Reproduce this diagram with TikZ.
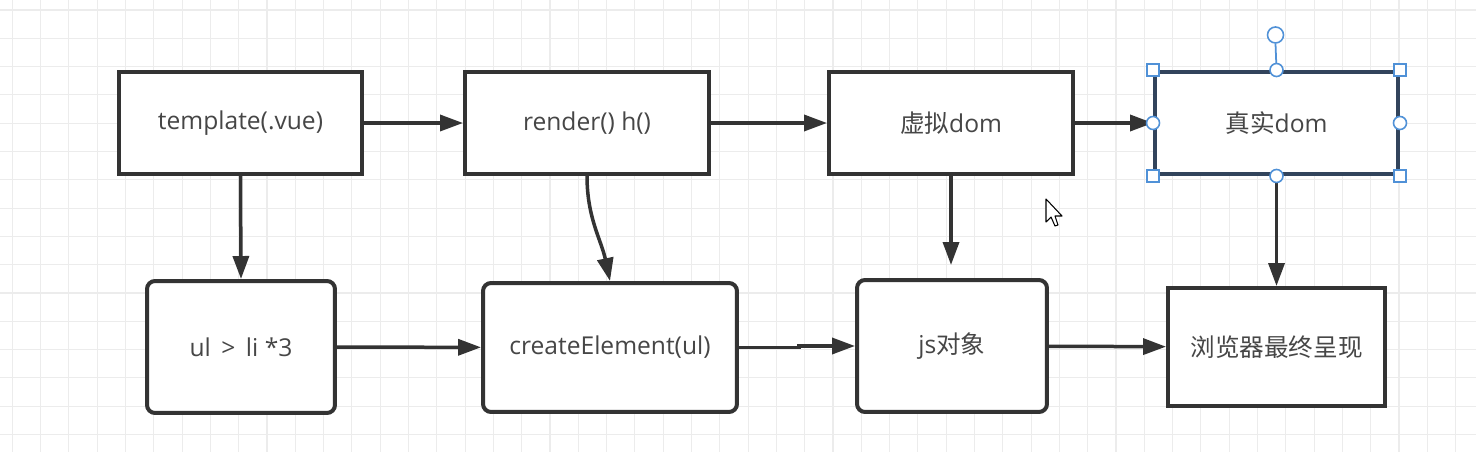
\documentclass[tikz,border=0pt]{standalone}
\usepackage{fontspec}
\setmainfont{Open Sans}
\newfontfamily\cjk{Noto Sans CJK SC}
\usetikzlibrary{arrows.meta}
\definecolor{LineClr}{RGB}{51,51,51}
\definecolor{TextClr}{RGB}{70,70,70}
\definecolor{GridClr}{RGB}{236,236,236}
\definecolor{SelClr}{RGB}{80,145,215}
\definecolor{SelBorder}{RGB}{50,68,92}

\begin{document}
\begin{tikzpicture}[x=0.02cm,y=-0.02cm,
  font=\fontsize{14}{16}\selectfont,
  sqbox/.style={draw=LineClr,line width=0.08cm,fill=white,text=TextClr,inner sep=0pt},
  rndbox/.style={sqbox,rounded corners=0.16cm},
  arr/.style={draw=LineClr,line width=0.07cm,-{Triangle[length=0.46cm,width=0.32cm]}},
  selsq/.style={draw=SelClr,fill=white,line width=0.9pt,minimum size=0.24cm,inner sep=0pt},
  selcirc/.style={draw=SelClr,fill=white,line width=0.9pt,circle,minimum size=0.26cm,inner sep=0pt}]

\fill[white] (0,0) rectangle (1476,452);
\useasboundingbox (0,0) rectangle (1476,452);
\foreach \i in {0,...,52}
  \draw[GridClr,line width=0.6pt] ({12.3+28.3*\i},0) -- ++(0,452);
\foreach \j in {0,...,15}
  \draw[GridClr,line width=0.6pt] (0,{10+28.3*\j}) -- ++(1476,0);

\node[sqbox,minimum width=4.86cm,minimum height=2.04cm] (tpl) at (240.5,123) {template(.vue)};
\node[sqbox,minimum width=4.88cm,minimum height=2.04cm] (rnd) at (587,123) {render() h()};
\node[sqbox,minimum width=4.88cm,minimum height=2.04cm] (vd) at (951,123) {{\cjk 虚拟}dom};
\node[sqbox,draw=SelBorder,minimum width=4.86cm,minimum height=2.04cm] (rd) at (1276.5,123) {{\cjk 真实}dom};

\node[rndbox,minimum width=3.76cm,minimum height=2.64cm] (ul) at (241,347) {ul \,>\, li *3};
\node[rndbox,minimum width=5.08cm,minimum height=2.58cm] (ce) at (610,347.5) {createElement(ul)};
\node[rndbox,minimum width=3.8cm,minimum height=2.64cm] (js) at (952,346) {js{\cjk 对象}};
\node[sqbox,minimum width=4.34cm,minimum height=2.36cm] (br) at (1276.5,347) {\cjk 浏览器最终呈现};

\coordinate (vdend) at (951,265);

\draw[arr] (tpl) -- (rnd);
\draw[arr] (rnd) -- (vd);
\draw[arr] (vd) -- (rd);
\draw[arr] (tpl.south) -- (ul.north);
\draw[arr] (rnd.south) to[out=-90,in=102] (ce.north);
\draw[arr] (vd.south) -- (vdend);
\draw[arr] (rd.south) -- (br.north);
\draw[arr] (ul) -- (ce);
\draw[arr] (ce.east) -- ++(60,0) |- (js.west);
\draw[arr] (js) -- (br);

\node[selcirc,minimum size=0.32cm] (rot) at (1275.5,35) {};
\draw[SelClr,line width=1pt] (rot.south) -- (rd.north);
\foreach \a in {north west,north east,south west,south east}
  \node[selsq] at (rd.\a) {};
\foreach \a in {north,south,east,west}
  \node[selcirc] at (rd.\a) {};

\draw[black,fill=white,line width=0.6pt,line join=round] (1046,199) -- (1046,222) -- (1051,217)
  -- (1055,226) -- (1058,225) -- (1055,216) -- (1062,216) -- cycle;

\end{tikzpicture}
\end{document}
